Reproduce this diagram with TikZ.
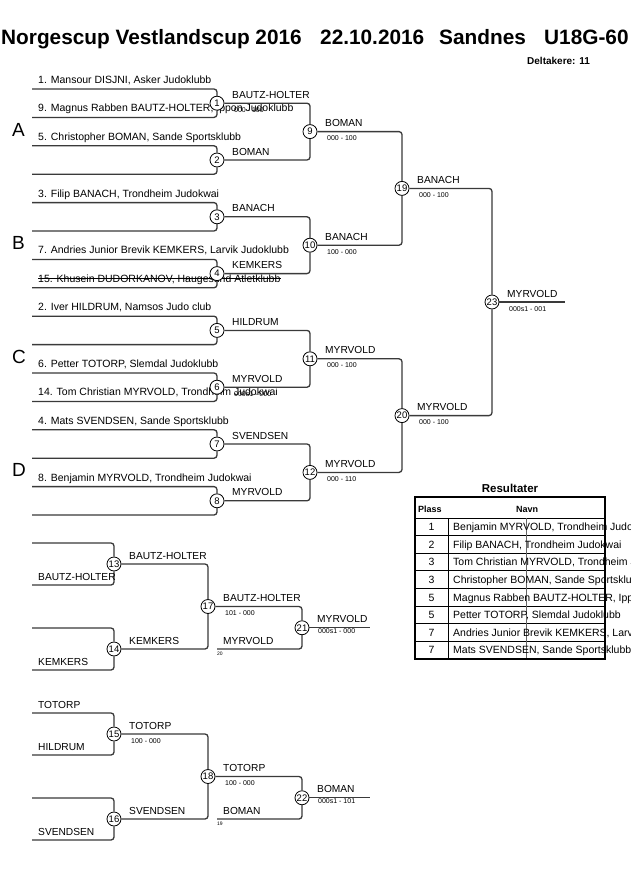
\documentclass[tikz,border=0pt]{standalone}
\usepackage{fontspec}
\setmainfont{Liberation Sans}
\usetikzlibrary{calc}
\definecolor{lc}{HTML}{3A3A3A}
\begin{document}
\begin{tikzpicture}[x=1pt,y=-1pt,
  ln/.style={draw=lc,line width=1.3pt,rounded corners=3pt},
  mc/.style={circle,draw=black,line width=0.8pt,fill=white,minimum size=14pt,inner sep=0pt,font=\fontsize{9.5}{10}\selectfont},
  ent/.style={anchor=base west,inner sep=0pt,font=\fontsize{10.5}{12}\selectfont},
  lab/.style={anchor=base west,inner sep=0pt,font=\fontsize{10.2}{12}\selectfont},
  sc/.style={anchor=base west,inner sep=0pt,font=\fontsize{7}{8}\selectfont},
  tinyt/.style={anchor=base west,inner sep=0pt,font=\fontsize{5}{6}\selectfont},
  grp/.style={anchor=base west,inner sep=0pt,font=\fontsize{19}{20}\selectfont},
  hd/.style={anchor=base west,inner sep=0pt,font=\bfseries\fontsize{20.8}{22}\selectfont},
]
\useasboundingbox[fill=white] (0,0) rectangle (630,891);

% title
\node[hd] (t1) at (1,45) {Norgescup Vestlandscup 2016};
\node[hd] (t2) at (320,45) {22.10.2016};
\node[hd] (t3) at (439,45) {Sandnes};
\node[hd] (t4) at (544,45) {U18G-60};
\node[anchor=base west,inner sep=0pt,font=\bfseries\fontsize{10}{11}\selectfont] (dk) at (527,64) {Deltakere: 11};

% group letters
\node[grp] (gA) at (12,136) {A};
\node[grp] (gB) at (12,249) {B};
\node[grp] (gC) at (12,363) {C};
\node[grp] (gD) at (12,476) {D};

% entry end points
\foreach \i in {0,...,15} {
  \pgfmathsetmacro\yy{89+28.4*\i}
  \coordinate (e\i) at (32,\yy);
}
% entry texts
\foreach \i/\t in {0/{1. Mansour DISJNI, Asker Judoklubb},
  1/{9. Magnus Rabben BAUTZ-HOLTER, Ippon Judoklubb},
  2/{5. Christopher BOMAN, Sande Sportsklubb},
  4/{3. Filip BANACH, Trondheim Judokwai},
  6/{7. Andries Junior Brevik KEMKERS, Larvik Judoklubb},
  7/{15. Khusein DUDORKANOV, Haugesund Atletklubb},
  8/{2. Iver HILDRUM, Namsos Judo club},
  10/{6. Petter TOTORP, Slemdal Judoklubb},
  11/{14. Tom Christian MYRVOLD, Trondheim Judokwai},
  12/{4. Mats SVENDSEN, Sande Sportsklubb},
  14/{8. Benjamin MYRVOLD, Trondheim Judokwai}} {
  \node[ent] (et\i) at ($(e\i)+(6,-5.5)$) {\t};
}
\draw[line width=0.9pt] ([yshift=3.5pt]et7.base west) -- ([yshift=3.5pt]et7.base east);

% match circles, main bracket
\foreach \k in {1,...,8} {
  \pgfmathsetmacro\yy{89+28.4*(2*\k-2)+14.2}
  \node[mc] (m\k) at (217,\yy) {\k};
}
\foreach \k in {9,...,12} {
  \pgfmathsetmacro\yy{89+28.4*4*(\k-9)+42.6}
  \node[mc] (m\k) at (310,\yy) {\k};
}
\node[mc] (m19) at (402,188.4) {19};
\node[mc] (m20) at (402,415.6) {20};
\node[mc] (m23) at (492,302) {23};
\coordinate (f23) at (565,302);

% connectors
\foreach \k in {1,...,8} {
  \pgfmathtruncatemacro\a{2*\k-2}
  \pgfmathtruncatemacro\b{2*\k-1}
  \draw[ln] (e\a) -| (m\k.north);
  \draw[ln] (e\b) -| (m\k.south);
}
\foreach \p/\a/\b in {9/1/2,10/3/4,11/5/6,12/7/8,19/9/10,20/11/12,23/19/20} {
  \draw[ln] (m\a.east) -| (m\p.north);
  \draw[ln] (m\b.east) -| (m\p.south);
}
\draw[ln] (m23.east) -- (f23);

% winner labels and scores
\foreach \k/\w in {1/BAUTZ-HOLTER,2/BOMAN,3/BANACH,4/KEMKERS,5/HILDRUM,6/MYRVOLD,7/SVENDSEN,8/MYRVOLD,
  9/BOMAN,10/BANACH,11/MYRVOLD,12/MYRVOLD,19/BANACH,20/MYRVOLD,23/MYRVOLD} {
  \node[lab] (w\k) at ($(m\k)+(15,-5)$) {\w};
}
\foreach \k/\s in {1/{000 - 100},6/{000s1 - 000},9/{000 - 100},10/{100 - 000},11/{000 - 100},12/{000 - 110},
  19/{000 - 100},20/{000 - 100},23/{000s1 - 001}} {
  \node[sc] (s\k) at ($(m\k)+(17,9)$) {\s};
}

% results table
\node[anchor=base,inner sep=0pt,font=\bfseries\fontsize{11.5}{12}\selectfont] (rt) at (510,492) {Resultater};
\foreach \j in {1,...,7} {
  \pgfmathsetmacro\yy{518+17.6*\j}
  \draw[line width=0.8pt] (415,\yy) -- (605,\yy);
}
\draw[line width=1pt] (415,518) -- (605,518);
\draw[line width=0.8pt] (448,518) -- (448,659);
\draw[line width=0.6pt,black!60] (526,518) -- (526,659);
\draw[line width=1.8pt] (415,497) rectangle (605,659);
\node[anchor=base west,inner sep=0pt,font=\bfseries\fontsize{9}{10}\selectfont] (hp) at (418,512) {Plass};
\node[anchor=base,inner sep=0pt,font=\bfseries\fontsize{9}{10}\selectfont] (hn) at (527,512) {Navn};
\foreach \j/\p/\n in {1/1/{Benjamin MYRVOLD, Trondheim Judokwai},
  2/2/{Filip BANACH, Trondheim Judokwai},
  3/3/{Tom Christian MYRVOLD, Trondheim Judokwai},
  4/3/{Christopher BOMAN, Sande Sportsklubb},
  5/5/{Magnus Rabben BAUTZ-HOLTER, Ippon Judoklubb},
  6/5/{Petter TOTORP, Slemdal Judoklubb},
  7/7/{Andries Junior Brevik KEMKERS, Larvik Judoklubb},
  8/7/{Mats SVENDSEN, Sande Sportsklubb}} {
  \pgfmathsetmacro\yy{518+17.6*(\j-0.5)+3.8}
  \node[anchor=base,inner sep=0pt,font=\fontsize{10.5}{12}\selectfont] (rp\j) at (431.5,\yy) {\p};
  \node[ent] (rn\j) at (453,\yy) {\n};
}

% repechage bracket
\coordinate (r13a) at (32,543); \coordinate (r13b) at (32,585);
\coordinate (r14a) at (32,628); \coordinate (r14b) at (32,670);
\coordinate (r15a) at (32,713); \coordinate (r15b) at (32,755);
\coordinate (r16a) at (32,798); \coordinate (r16b) at (32,840);
\node[mc] (m13) at (114,564) {13};
\node[mc] (m14) at (114,649) {14};
\node[mc] (m15) at (114,734) {15};
\node[mc] (m16) at (114,819) {16};
\node[mc] (m17) at (208,606.5) {17};
\node[mc] (m18) at (208,776.5) {18};
\node[mc] (m21) at (302,627.75) {21};
\node[mc] (m22) at (302,797.75) {22};
\coordinate (c20) at (217,649);
\coordinate (c19) at (217,819);
\coordinate (f21) at (370,627.75);
\coordinate (f22) at (370,797.75);

\foreach \k in {13,14,15,16} {
  \draw[ln] (r\k a) -| (m\k.north);
  \draw[ln] (r\k b) -| (m\k.south);
}
\draw[ln] (m13.east) -| (m17.north);
\draw[ln] (m14.east) -| (m17.south);
\draw[ln] (m15.east) -| (m18.north);
\draw[ln] (m16.east) -| (m18.south);
\draw[ln] (m17.east) -| (m21.north);
\draw[ln] (c20) -| (m21.south);
\draw[ln] (m18.east) -| (m22.north);
\draw[ln] (c19) -| (m22.south);
\draw[ln] (m21.east) -- (f21);
\draw[ln] (m22.east) -- (f22);

\node[lab] (l13b) at ($(r13b)+(6,-5)$) {BAUTZ-HOLTER};
\node[lab] (l14b) at ($(r14b)+(6,-5)$) {KEMKERS};
\node[lab] (l15a) at ($(r15a)+(6,-5)$) {TOTORP};
\node[lab] (l15b) at ($(r15b)+(6,-5)$) {HILDRUM};
\node[lab] (l16b) at ($(r16b)+(6,-5)$) {SVENDSEN};
\foreach \k/\w in {13/BAUTZ-HOLTER,14/KEMKERS,15/TOTORP,16/SVENDSEN,17/BAUTZ-HOLTER,18/TOTORP,21/MYRVOLD,22/BOMAN} {
  \node[lab] (w\k) at ($(m\k)+(15,-5)$) {\w};
}
\foreach \k/\s in {15/{100 - 000},17/{101 - 000},18/{100 - 000}} {
  \node[sc] (s\k) at ($(m\k)+(17,9)$) {\s};
}
\node[sc] (s21) at ($(m21)+(16,6)$) {000s1 - 000};
\node[sc] (s22) at ($(m22)+(16,6)$) {000s1 - 101};
\node[lab] (l20) at ($(c20)+(6,-5)$) {MYRVOLD};
\node[tinyt] (n20) at ($(c20)+(0,6)$) {20};
\node[lab] (l19) at ($(c19)+(6,-5)$) {BOMAN};
\node[tinyt] (n19) at ($(c19)+(0,6)$) {19};
\end{tikzpicture}
\end{document}
